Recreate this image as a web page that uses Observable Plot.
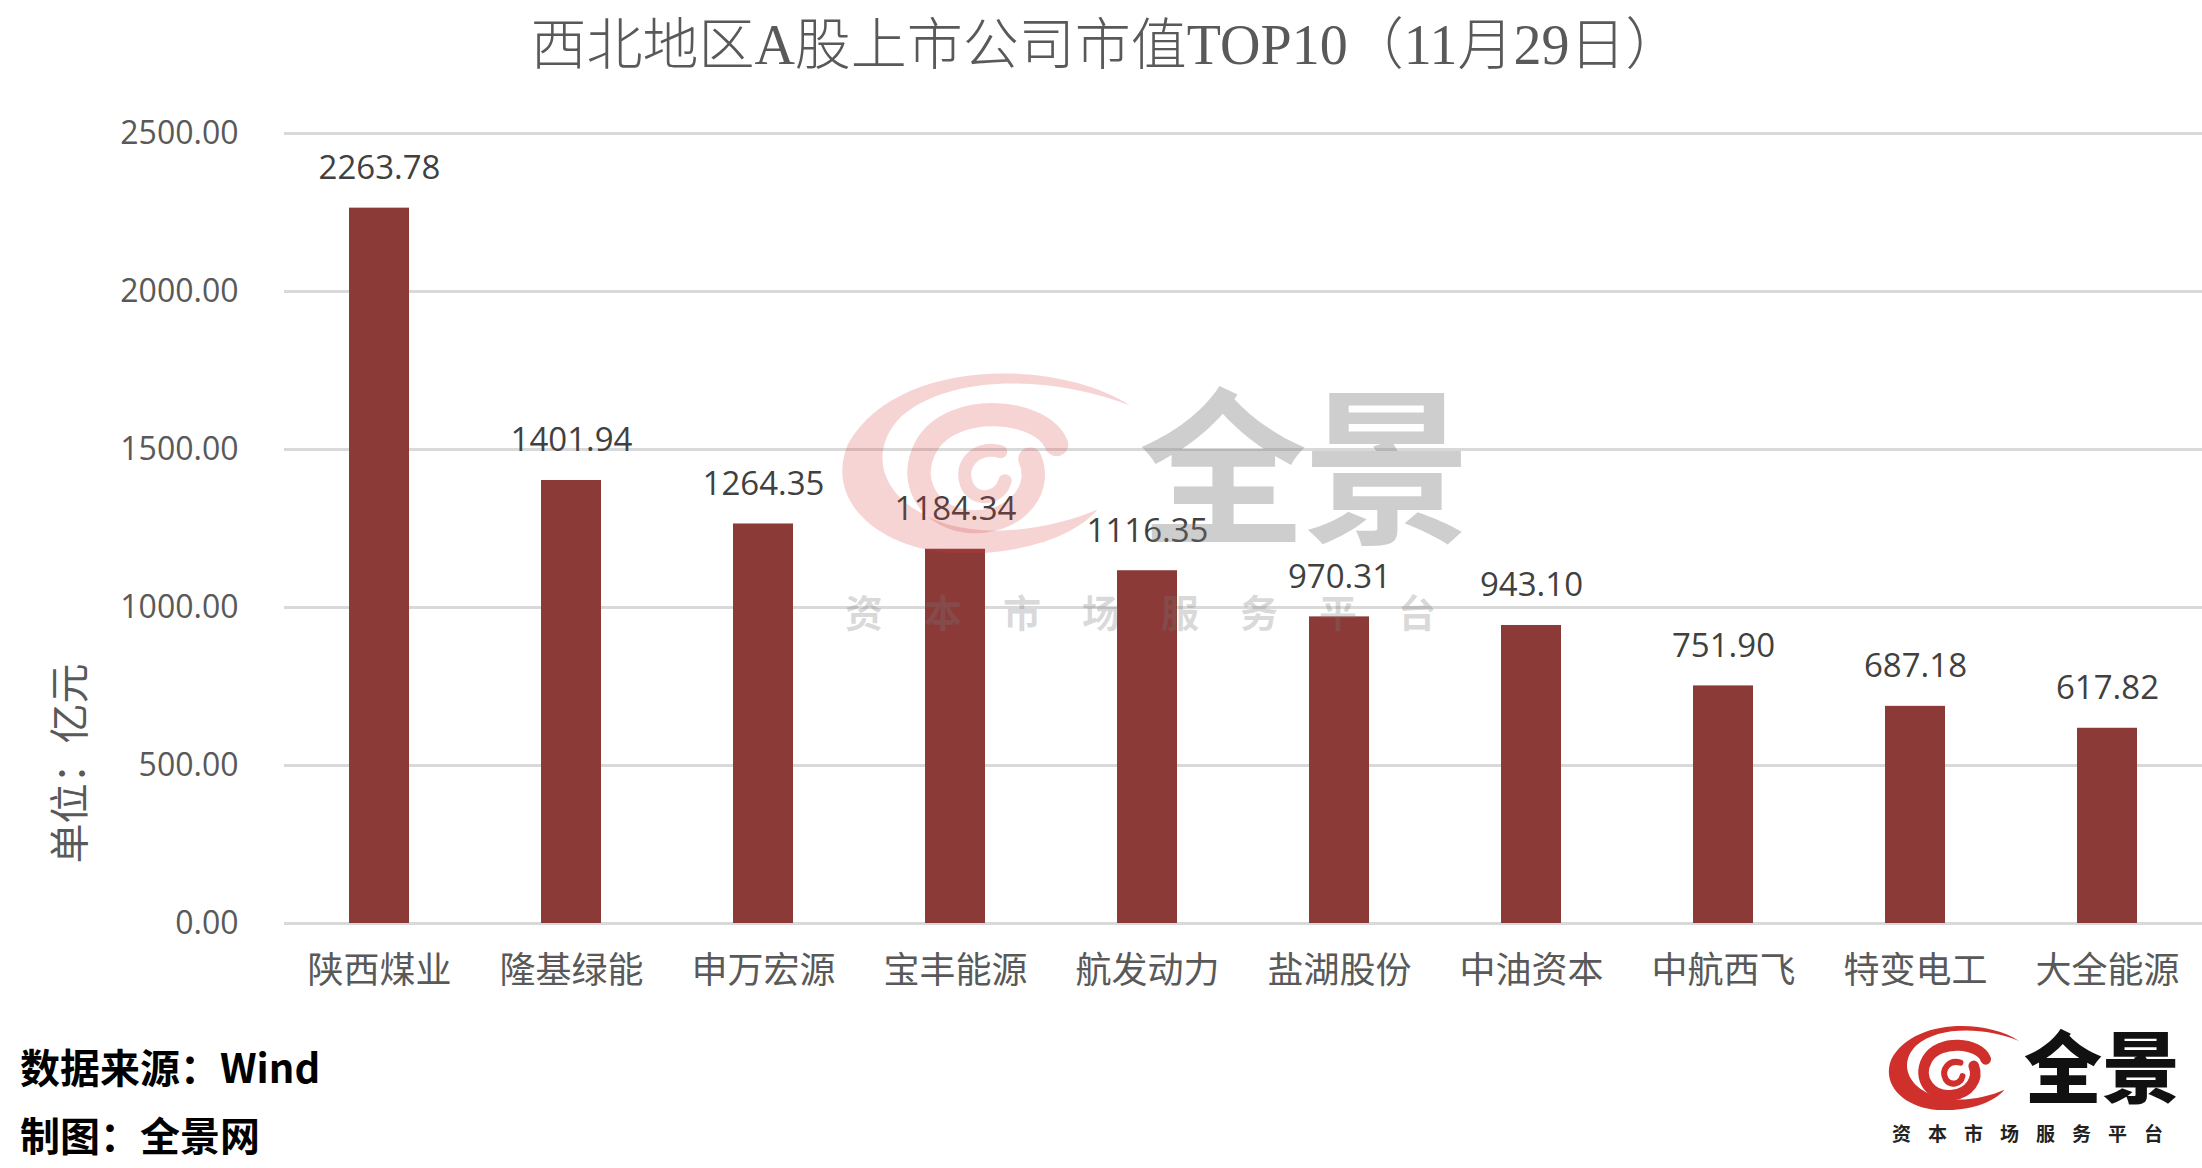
<!DOCTYPE html>
<html>
<head>
<meta charset="utf-8">
<script src="https://cdn.jsdelivr.net/npm/d3@7"></script>
<script src="https://cdn.jsdelivr.net/npm/@observablehq/plot@0.6"></script>
<style>
  html, body { margin: 0; padding: 0; background: #fff; }
  #page { position: relative; width: 2202px; height: 1168px; overflow: hidden; background: #fff; }
  #title { position: absolute; left: 0; top: 0; width: 2212px; height: 90px; line-height: 90px; text-align: center;
    font-family: "Liberation Serif", "Noto Sans CJK SC", serif; font-size: 56px; font-weight: 300; color: #595959; white-space: nowrap; }
  #chart { position: absolute; left: 0; top: 90px; }
  .foot { position: absolute; left: 20px; font-family: "Noto Sans CJK SC", sans-serif; font-weight: 700; font-size: 40px; line-height: 40px; color: #000; white-space: nowrap; }
  .abs { position: absolute; white-space: nowrap; pointer-events: none; }
</style>
</head>
<body>
<div id="page">
  <div id="title">西北地区A股上市公司市值TOP10（11月29日）</div>
  <div id="chart"></div>
  <div class="foot" style="top:1046px;">数据来源：Wind</div>
  <div class="foot" style="top:1114px;">制图：全景网</div>

  <!-- watermark -->
  <svg class="abs" style="left:836px;top:365px;" width="294" height="188" viewBox="0 0 200 130" preserveAspectRatio="none">
    <g fill="rgba(215,60,60,0.22)" stroke="none">
      <path d="M 200 28 C 150 -5, 40 -5, 8 55 C -10 100, 40 135, 100 130 C 140 127, 165 115, 178 100 C 150 112, 110 120, 75 110 C 30 95, 20 60, 45 35 C 80 5, 150 8, 200 28 Z"/>
    </g>
    <g fill="none" stroke="rgba(215,60,60,0.22)" stroke-linecap="round">
      <path d="M 150 55 C 140 30, 80 25, 62 55 C 45 85, 70 112, 100 108 C 125 105, 140 85, 132 65" stroke-width="16"/>
      <path d="M 112 60 C 95 55, 82 70, 90 85 C 97 95, 112 92, 115 80" stroke-width="9"/>
    </g>
  </svg>
  <div class="abs" style="left:1139px;top:374px;font-family:'Noto Sans CJK SC',sans-serif;font-weight:700;font-size:168px;line-height:168px;letter-spacing:-4px;color:rgba(120,120,120,0.36);">全景</div>
  <div class="abs" style="left:845px;top:592px;font-family:'Noto Sans CJK SC',sans-serif;font-weight:700;font-size:38px;line-height:38px;letter-spacing:41px;color:rgba(120,120,120,0.28);">资本市场服务平台</div>

  <!-- logo -->
  <svg class="abs" style="left:1886px;top:1022px;" width="133" height="88" viewBox="0 0 200 130" preserveAspectRatio="none">
    <g fill="#d0302b" stroke="none">
      <path d="M 200 28 C 150 -5, 40 -5, 8 55 C -10 100, 40 135, 100 130 C 140 127, 165 115, 178 100 C 150 112, 110 120, 75 110 C 30 95, 20 60, 45 35 C 80 5, 150 8, 200 28 Z"/>
    </g>
    <g fill="none" stroke="#d0302b" stroke-linecap="round">
      <path d="M 150 55 C 140 30, 80 25, 62 55 C 45 85, 70 112, 100 108 C 125 105, 140 85, 132 65" stroke-width="16"/>
      <path d="M 112 60 C 95 55, 82 70, 90 85 C 97 95, 112 92, 115 80" stroke-width="9"/>
    </g>
  </svg>
  <div class="abs" style="left:2024px;top:1024px;font-family:'Noto Sans CJK SC',sans-serif;font-weight:900;font-size:78px;line-height:78px;color:#111;">全景</div>
  <div class="abs" style="left:1892px;top:1123px;font-family:'Noto Sans CJK SC',sans-serif;font-weight:700;font-size:19px;line-height:19px;letter-spacing:17px;color:#222;">资本市场服务平台</div>
</div>
<script>
const companies = ["陕西煤业", "隆基绿能", "申万宏源", "宝丰能源", "航发动力", "盐湖股份", "中油资本", "中航西飞", "特变电工", "大全能源"];
const values = [2263.78, 1401.94, 1264.35, 1184.34, 1116.35, 970.31, 943.10, 751.90, 687.18, 617.82];
const yTicks = [0, 500, 1000, 1500, 2000, 2500];
const yLabel = "单位：亿元";

const data = companies.map((name, i) => ({name, value: values[i]}));
const fmt = d3.format(".2f");

const chart = Plot.plot({
  width: 2202,
  height: 910,
  marginTop: 43,
  marginBottom: 77,
  marginLeft: 284,
  marginRight: 0,
  style: {fontFamily: "'Open Sans', 'Noto Sans CJK SC', sans-serif", background: "transparent", overflow: "visible"},
  x: {domain: companies, paddingInner: 0.687, paddingOuter: 0.33, label: null},
  y: {domain: [0, 2500], label: null},
  marks: [
    Plot.gridY(yTicks, {stroke: "#d9d9d9", strokeOpacity: 1, strokeWidth: 3}),
    Plot.barY(data, {x: "name", y: "value", fill: "#8B3A38"}),
    Plot.text(data, {x: "name", y: "value", text: d => fmt(d.value), dy: -29, lineAnchor: "bottom", fontSize: 33, fill: "#404040"}),
    Plot.axisY(yTicks, {tickSize: 0, tickPadding: 46, tickFormat: fmt, fontSize: 32, fill: "#595959", label: null}),
    Plot.axisX({tickSize: 0, tickPadding: 34, fontSize: 36, fontFamily: "'Noto Sans CJK SC', sans-serif", fill: "#595959", label: null}),
    Plot.text([yLabel], {frameAnchor: "left", dx: -213, dy: 335, rotate: -90, fontSize: 40, fill: "#595959", fontFamily: "'Noto Sans CJK SC', sans-serif"})
  ]
});
document.getElementById("chart").appendChild(chart);
</script>
</body>
</html>
